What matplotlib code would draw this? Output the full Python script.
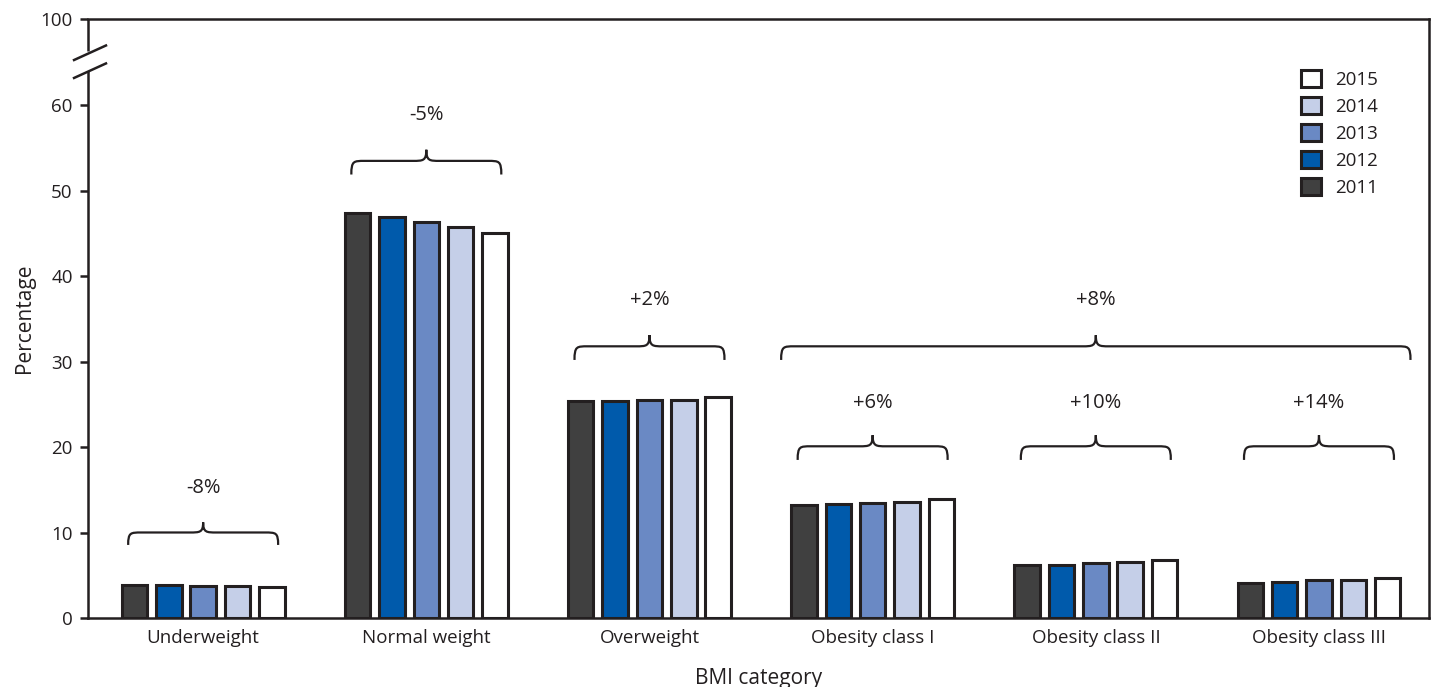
import matplotlib
matplotlib.use("Agg")
import matplotlib.pyplot as plt
import numpy as np
from matplotlib.path import Path
from matplotlib.patches import PathPatch
from matplotlib.lines import Line2D
import matplotlib.transforms as mtransforms

plt.rcParams['font.family'] = ['Open Sans', 'DejaVu Sans']

categories = ["Underweight", "Normal weight", "Overweight", "Obesity class I",
              "Obesity class II", "Obesity class III"]
years = ["2011", "2012", "2013", "2014", "2015"]
v2011 = [3.9, 47.4, 25.4, 13.2, 6.2, 4.1]
v2012 = [3.9, 46.9, 25.4, 13.3, 6.2, 4.2]
v2013 = [3.8, 46.3, 25.5, 13.5, 6.4, 4.4]
v2014 = [3.8, 45.8, 25.5, 13.6, 6.6, 4.5]
v2015 = [3.6, 45.1, 25.9, 13.9, 6.8, 4.7]
series = [v2011, v2012, v2013, v2014, v2015]
colors = ["#404040", "#005aab", "#6a89c4", "#c5cfe8", "#ffffff"]
changes = ["-8%", "-5%", "+2%", "+6%", "+10%", "+14%"]
overall_change = "+8%"
ytick_vals = [0, 10, 20, 30, 40, 50, 60]

EDGE = "#231f20"
TXT = "#231f20"
fig = plt.figure(figsize=(14.38, 6.87), dpi=100)
ax = fig.add_axes([88/1438, 69/687, 1341/1438, 599/687])

x = np.arange(len(categories))
pitch = 0.154
width = 0.114
for i, (vals, c, yr) in enumerate(zip(series, colors, years)):
    ax.bar(x + (i - 2) * pitch, vals, width=width, color=c, edgecolor=EDGE,
           linewidth=2.2, label=yr, zorder=3)

top = 70.1
ax.set_xlim(-0.516, 5.493)
ax.set_ylim(0, top)
ax.set_yticks(ytick_vals + [top])
ax.set_yticklabels([str(v) for v in ytick_vals] + ["100"])
ax.set_xticks(x)
ax.set_xticklabels(categories)
ax.tick_params(axis='y', length=6, width=1.8, color=EDGE, labelsize=13.5,
               labelcolor=TXT, pad=5)
ax.tick_params(axis='x', length=0, labelsize=13.5, labelcolor=TXT, pad=8)
for s in ['top', 'right', 'bottom', 'left']:
    ax.spines[s].set_color(EDGE)
    ax.spines[s].set_linewidth(1.8)
ax.spines['left'].set_bounds(0, 63.9)
trans = mtransforms.blended_transform_factory(ax.transAxes, ax.transData)
ax.add_line(Line2D([0, 0], [66.3, top], transform=trans, color=EDGE, lw=1.8,
                   clip_on=False, solid_capstyle='butt'))
for y0, y1 in [(65.3, 67.0), (63.2, 64.9)]:
    ax.add_line(Line2D([-0.0104, 0.0134], [y0, y1], transform=trans, color=EDGE,
                       lw=1.8, clip_on=False))

ax.set_ylabel("Percentage", fontsize=15, color=TXT, labelpad=4)
ax.set_xlabel("BMI category", fontsize=15, color=TXT, labelpad=15)


def brace(x0, x1, yend, ytip, xtip=None):
    if xtip is None:
        xtip = (x0 + x1) / 2
    ymid = yend + (ytip - yend) * 0.55
    r = 0.06
    verts = [(x0, yend),
             (x0, ymid), (x0 + 0.01, ymid), (x0 + r, ymid),
             (xtip - r, ymid),
             (xtip - 0.015, ymid), (xtip, ymid), (xtip, ytip),
             (xtip, ymid), (xtip + 0.015, ymid), (xtip + r, ymid),
             (x1 - r, ymid),
             (x1 - 0.01, ymid), (x1, ymid), (x1, yend)]
    codes = [Path.MOVETO, Path.CURVE4, Path.CURVE4, Path.CURVE4, Path.LINETO,
             Path.CURVE4, Path.CURVE4, Path.CURVE4,
             Path.CURVE4, Path.CURVE4, Path.CURVE4, Path.LINETO,
             Path.CURVE4, Path.CURVE4, Path.CURVE4]
    ax.add_patch(PathPatch(Path(verts, codes), fill=False, edgecolor=EDGE,
                           lw=1.6, zorder=4))


brace_levels = [(8.55, 11.2, 15.2), (51.9, 54.8, 58.9), (30.2, 33.1, 37.2),
                (18.5, 21.4, 25.2), (18.5, 21.4, 25.2), (18.5, 21.4, 25.2)]
half = 0.336
for xi, (ye, yt, yl), lab in zip(x, brace_levels, changes):
    brace(xi - half, xi + half, ye, yt)
    ax.text(xi, yl, lab, ha='center', va='center', fontsize=14.5, color=TXT)

brace(2.59, 5.41, 30.2, 33.1, xtip=4.0)
ax.text(4.0, 37.2, overall_change, ha='center', va='center', fontsize=14.5, color=TXT)

h, l = ax.get_legend_handles_labels()
leg = ax.legend(h[::-1], l[::-1], loc='upper left', bbox_to_anchor=(0.9045, 0.915),
                frameon=False, fontsize=13.5, handlelength=1.05, handleheight=1.05,
                labelspacing=0.42, handletextpad=0.75, borderaxespad=0,
                borderpad=0, labelcolor=TXT)

fig.savefig("out.png", dpi=100)
